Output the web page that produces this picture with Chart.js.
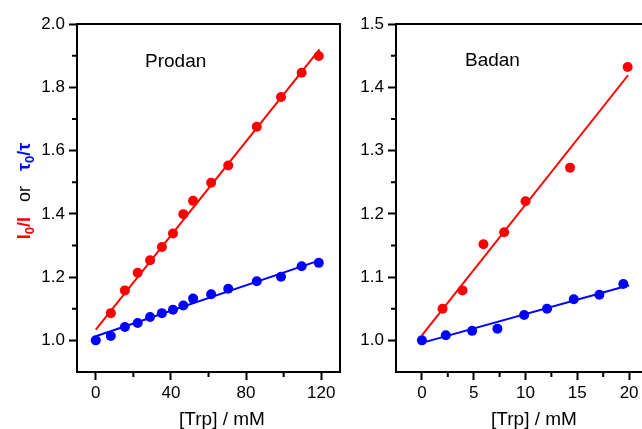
<!DOCTYPE html>
<html>
<head>
<meta charset="utf-8">
<script src="https://cdn.jsdelivr.net/npm/chart.js@4"></script>
<style>
html, body { margin: 0; padding: 0; overflow: hidden; background: #fff; width: 642px; height: 429px; }
.panel { position: absolute; top: 0; height: 429px; }
#left { left: 0; width: 350px; }
#right { left: 345px; width: 320px; }
</style>
</head>
<body>
<div class="panel" id="left"><canvas id="prodan"></canvas></div>
<div class="panel" id="right"><canvas id="badan"></canvas></div>
<script>
Chart.defaults.font.family = "'Liberation Sans', Arial, sans-serif";
Chart.defaults.color = '#000';

// Prodan panel
const prodanConc   = [8.0, 15.5, 22.3, 28.9, 35.2, 41.1, 46.6, 51.8, 61.4, 70.5, 85.7, 98.6, 109.6, 118.7];
const prodanI0I    = [1.086, 1.158, 1.214, 1.253, 1.295, 1.338, 1.399, 1.441, 1.498, 1.553, 1.675, 1.769, 1.846, 1.899];
const prodanTauConc = [0, 8.0, 15.5, 22.3, 28.9, 35.2, 41.1, 46.6, 51.8, 61.4, 70.5, 85.7, 98.6, 109.6, 118.7];
const prodanTau    = [1.0, 1.014, 1.042, 1.055, 1.074, 1.086, 1.097, 1.110, 1.132, 1.146, 1.163, 1.187, 1.201, 1.234, 1.245];
const prodanFitIX  = [0, 119.1];
const prodanFitI   = [1.034, 1.920];
const prodanFitTauX = [0, 119.1];
const prodanFitTau = [1.013, 1.253];

// Badan panel
const badanConc    = [1.99, 3.92, 5.94, 7.94, 10.0, 14.3, 19.86];
const badanI0I     = [1.050, 1.079, 1.152, 1.171, 1.220, 1.273, 1.432];
const badanTauConc = [0, 2.31, 4.85, 7.29, 9.87, 12.08, 14.66, 17.13, 19.44];
const badanTau     = [1.0, 1.008, 1.015, 1.0185, 1.040, 1.050, 1.065, 1.072, 1.089];
const badanFitIX   = [0, 19.9];
const badanFitI    = [1.008, 1.419];
const badanFitTauX = [0, 20.0];
const badanFitTau  = [0.996, 1.087];

const RED = '#ff0000';
const BLUE = '#0000ff';

function pts(xs, ys) {
  return xs.map((x, i) => ({ x: x, y: ys[i] }));
}

function isMult(v, step) {
  const r = v / step;
  return Math.abs(r - Math.round(r)) < 1e-6;
}

// 'major', 'minor' or 'none'
function kind(v, major, minor) {
  if (isMult(v, major)) return 'major';
  if (isMult(v, minor)) return 'minor';
  return 'none';
}

function axis(min, max, step, major, decimals, isX) {
  return {
    type: 'linear',
    min: min,
    max: max,
    ticks: {
      autoSkip: false,
      maxRotation: 0,
      padding: isX ? 3 : 4,
      font: { size: 17 },
      callback: function (v) {
        return kind(v, major, step) === 'major' ? v.toFixed(decimals) : '';
      }
    },
    afterBuildTicks: function (s) {
      const ticks = [];
      const first = Math.ceil(min / step - 1e-6);
      for (let k = first; k * step <= max + 1e-9; k++) {
        ticks.push({ value: +(k * step).toFixed(6) });
      }
      s.ticks = ticks;
    },
    grid: {
      drawOnChartArea: false,
      tickLength: 8,
      tickWidth: 2,
      tickColor: function (ctx) {
        return ctx.tick && kind(ctx.tick.value, major, step) === 'major' ? '#000' : 'rgba(0,0,0,0)';
      }
    },
    border: { color: '#000', width: 2 },
    afterFit: function (s) {
      if (isX) s.height = 57; else s.width = s.chart.options.yWidth;
    }
  };
}

const decor = {
  id: 'decor',
  afterDraw(chart) {
    const a = chart.chartArea, c = chart.ctx, o = chart.options.decor;
    c.save();
    c.strokeStyle = '#000';
    c.lineWidth = 2;
    c.beginPath();
    c.moveTo(a.left, a.top);
    c.lineTo(a.right, a.top);
    c.lineTo(a.right, a.bottom);
    c.stroke();

    // minor ticks
    const xs = chart.scales.x, ys = chart.scales.y;
    c.beginPath();
    xs.ticks.forEach(t => {
      if (kind(t.value, o.xMajor, o.xStep) === 'minor' && t.value > xs.min && t.value < xs.max) {
        const px = xs.getPixelForValue(t.value);
        c.moveTo(px, a.bottom);
        c.lineTo(px, a.bottom + 5);
      }
    });
    ys.ticks.forEach(t => {
      if (kind(t.value, o.yMajor, o.yStep) === 'minor' && t.value > ys.min && t.value < ys.max) {
        const py = ys.getPixelForValue(t.value);
        c.moveTo(a.left - 5, py);
        c.lineTo(a.left, py);
      }
    });
    c.stroke();

    c.fillStyle = '#000';
    c.textBaseline = 'alphabetic';
    c.font = "19px 'Liberation Sans', Arial, sans-serif";
    c.textAlign = 'left';
    c.fillText(o.label, o.labelX, o.labelY);
    c.textAlign = 'center';
    c.fillText('[Trp] / mM', o.titleX, 425);

    if (o.yTitle) {
      const parts = [
        { t: 'I', f: 'bold 18px', col: RED },
        { t: '0', f: 'bold 13px', col: RED, sub: true },
        { t: '/I', f: 'bold 18px', col: RED },
        { t: '   or   ', f: '18px', col: '#000' },
        { t: '\u03c4', f: 'bold 18px', col: BLUE },
        { t: '0', f: 'bold 13px', col: BLUE, sub: true },
        { t: '/\u03c4', f: 'bold 18px', col: BLUE }
      ];
      let total = 0;
      parts.forEach(p => {
        c.font = p.f + " 'Liberation Sans', Arial, sans-serif";
        p.w = c.measureText(p.t).width;
        total += p.w;
      });
      c.translate(30, 191);
      c.rotate(-Math.PI / 2);
      c.textAlign = 'left';
      let x = -total / 2;
      parts.forEach(p => {
        c.font = p.f + " 'Liberation Sans', Arial, sans-serif";
        c.fillStyle = p.col;
        c.fillText(p.t, x, p.sub ? 4 : 0);
        x += p.w;
      });
    }
    c.restore();
  }
};

function makeChart(id, d) {
  return new Chart(document.getElementById(id), {
    type: 'scatter',
    data: {
      datasets: [
        { data: pts(d.tauX, d.tau), backgroundColor: BLUE, borderColor: BLUE, pointRadius: 5, pointBorderWidth: 0 },
        { data: pts(d.iX, d.i), backgroundColor: RED, borderColor: RED, pointRadius: 5, pointBorderWidth: 0 },
        { data: pts(d.fitTauX, d.fitTau), showLine: true, borderColor: BLUE, borderWidth: 2, pointRadius: 0 },
        { data: pts(d.fitIX, d.fitI), showLine: true, borderColor: RED, borderWidth: 2, pointRadius: 0 }
      ]
    },
    options: {
      responsive: true,
      maintainAspectRatio: false,
      animation: false,
      yWidth: d.yWidth,
      layout: { padding: { left: 0, right: d.padRight, top: 24, bottom: 0 } },
      plugins: { legend: { display: false }, tooltip: { enabled: false } },
      scales: {
        x: axis(d.xMin, d.xMax, d.xStep, d.xMajor, 0, true),
        y: axis(d.yMin, d.yMax, d.yStep, d.yMajor, 1, false)
      },
      decor: d.decor
    },
    plugins: [decor]
  });
}

makeChart('prodan', {
  iX: prodanConc, i: prodanI0I, tauX: prodanTauConc, tau: prodanTau,
  fitIX: prodanFitIX, fitI: prodanFitI, fitTauX: prodanFitTauX, fitTau: prodanFitTau,
  xMin: -10, xMax: 130, xStep: 20, xMajor: 40,
  yMin: 0.9, yMax: 2.0, yStep: 0.1, yMajor: 0.2,
  yWidth: 77, padRight: 10,
  decor: { xMajor: 40, xStep: 20, yMajor: 0.2, yStep: 0.1, label: 'Prodan', labelX: 145, labelY: 67, titleX: 222, yTitle: true }
});

makeChart('badan', {
  iX: badanConc, i: badanI0I, tauX: badanTauConc, tau: badanTau,
  fitIX: badanFitIX, fitI: badanFitI, fitTauX: badanFitTauX, fitTau: badanFitTau,
  xMin: -2.5, xMax: 22.5, xStep: 2.5, xMajor: 5,
  yMin: 0.95, yMax: 1.5, yStep: 0.05, yMajor: 0.1,
  yWidth: 51, padRight: 10,
  decor: { xMajor: 5, xStep: 2.5, yMajor: 0.1, yStep: 0.05, label: 'Badan', labelX: 120, labelY: 66, titleX: 189, yTitle: false }
});
</script>
</body>
</html>
